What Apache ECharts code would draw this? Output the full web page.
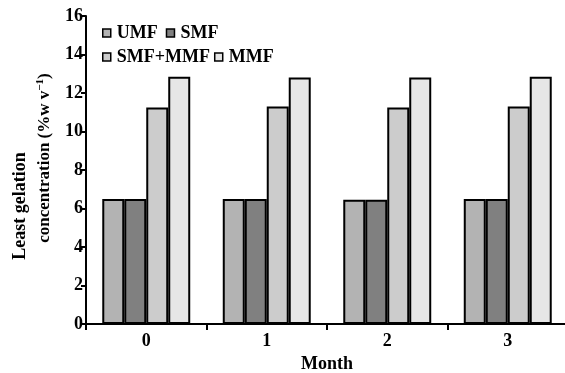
<!DOCTYPE html>
<html>
<head>
<meta charset="utf-8">
<script src="https://cdn.jsdelivr.net/npm/echarts@6/dist/echarts.min.js"></script>
<style>html,body{margin:0;padding:0;background:#fff}#c{width:565px;height:373px}</style>
</head>
<body>
<div id="c"></div>
<script>
var months = ['0', '1', '2', '3'];
var umf = [6.5, 6.5, 6.45, 6.5];
var smf = [6.5, 6.5, 6.45, 6.5];
var smfMmf = [11.25, 11.3, 11.25, 11.3];
var mmf = [12.85, 12.8, 12.8, 12.85];
var yTicks = [0, 2, 4, 6, 8, 10, 12, 14, 16];

var FONT = 'Liberation Serif';
var chart = echarts.init(document.getElementById('c'), null, {renderer: 'canvas'});
function bar(name, data, color) {
  return {
    name: name, type: 'bar', data: data,
    barGap: '0%', barCategoryGap: '27%',
    itemStyle: {color: color, borderColor: '#000', borderWidth: 2},
    emphasis: {disabled: true}
  };
}
var legendText = {fontFamily: FONT, fontSize: 18, fontWeight: 'bold', color: '#000', padding: [0, 0, 0, 1]};
var legendItem = {borderColor: '#000', borderWidth: 1.5};
chart.setOption({
  animation: false,
  backgroundColor: '#fff',
  grid: {left: 86, top: 16, width: 482, bottom: 49, containLabel: false, outerBoundsMode: 'none'},
  legend: [
    {data: ['UMF', 'SMF'], left: 97, top: 19, icon: 'rect', itemWidth: 8, itemHeight: 8, itemGap: 8,
     textStyle: legendText, itemStyle: legendItem, selectedMode: false},
    {data: ['SMF+MMF', 'MMF'], left: 97, top: 43, icon: 'rect', itemWidth: 8, itemHeight: 8, itemGap: 4,
     textStyle: legendText, itemStyle: legendItem, selectedMode: false}
  ],
  xAxis: {
    type: 'category', data: months,
    name: 'Month', nameLocation: 'middle', nameGap: 31,
    nameTextStyle: {fontFamily: FONT, fontSize: 18, fontWeight: 'bold', color: '#000'},
    axisLine: {lineStyle: {color: '#000', width: 2}},
    axisTick: {show: true, alignWithLabel: false, length: 6, lineStyle: {color: '#000', width: 2}},
    axisLabel: {fontFamily: FONT, fontSize: 18, fontWeight: 'bold', color: '#000', margin: 8}
  },
  yAxis: {
    type: 'value', min: 0, max: 16, interval: 2,
    axisLine: {show: true, lineStyle: {color: '#000', width: 2}},
    axisTick: {show: true, length: 5, lineStyle: {color: '#000', width: 2}},
    splitLine: {show: false},
    axisLabel: {fontFamily: FONT, fontSize: 18, fontWeight: 'bold', color: '#000', margin: 3,
      formatter: function (v) { return yTicks.indexOf(v) >= 0 ? String(v) : ''; }}
  },
  graphic: [
    {type: 'text', x: 20, y: 206, rotation: Math.PI / 2,
     style: {text: 'Least gelation', fontFamily: FONT, fontSize: 18, fontWeight: 'bold', fill: '#000',
       align: 'center', verticalAlign: 'middle'}},
    {type: 'text', x: 45, y: 158, rotation: Math.PI / 2,
     style: {text: '{a|concentration (%w v}{s|−1}{a|)}', fill: '#000', align: 'center', verticalAlign: 'middle',
       rich: {
         a: {fontFamily: FONT, fontSize: 17, fontWeight: 'bold', fill: '#000', lineHeight: 20},
         s: {fontFamily: FONT, fontSize: 11, fontWeight: 'bold', fill: '#000', lineHeight: 20, padding: [0, 0, 9, 0]}
       }}}
  ],
  series: [
    bar('UMF', umf, '#b3b3b3'),
    bar('SMF', smf, '#808080'),
    bar('SMF+MMF', smfMmf, '#cccccc'),
    bar('MMF', mmf, '#e6e6e6')
  ]
});
</script>
</body>
</html>
